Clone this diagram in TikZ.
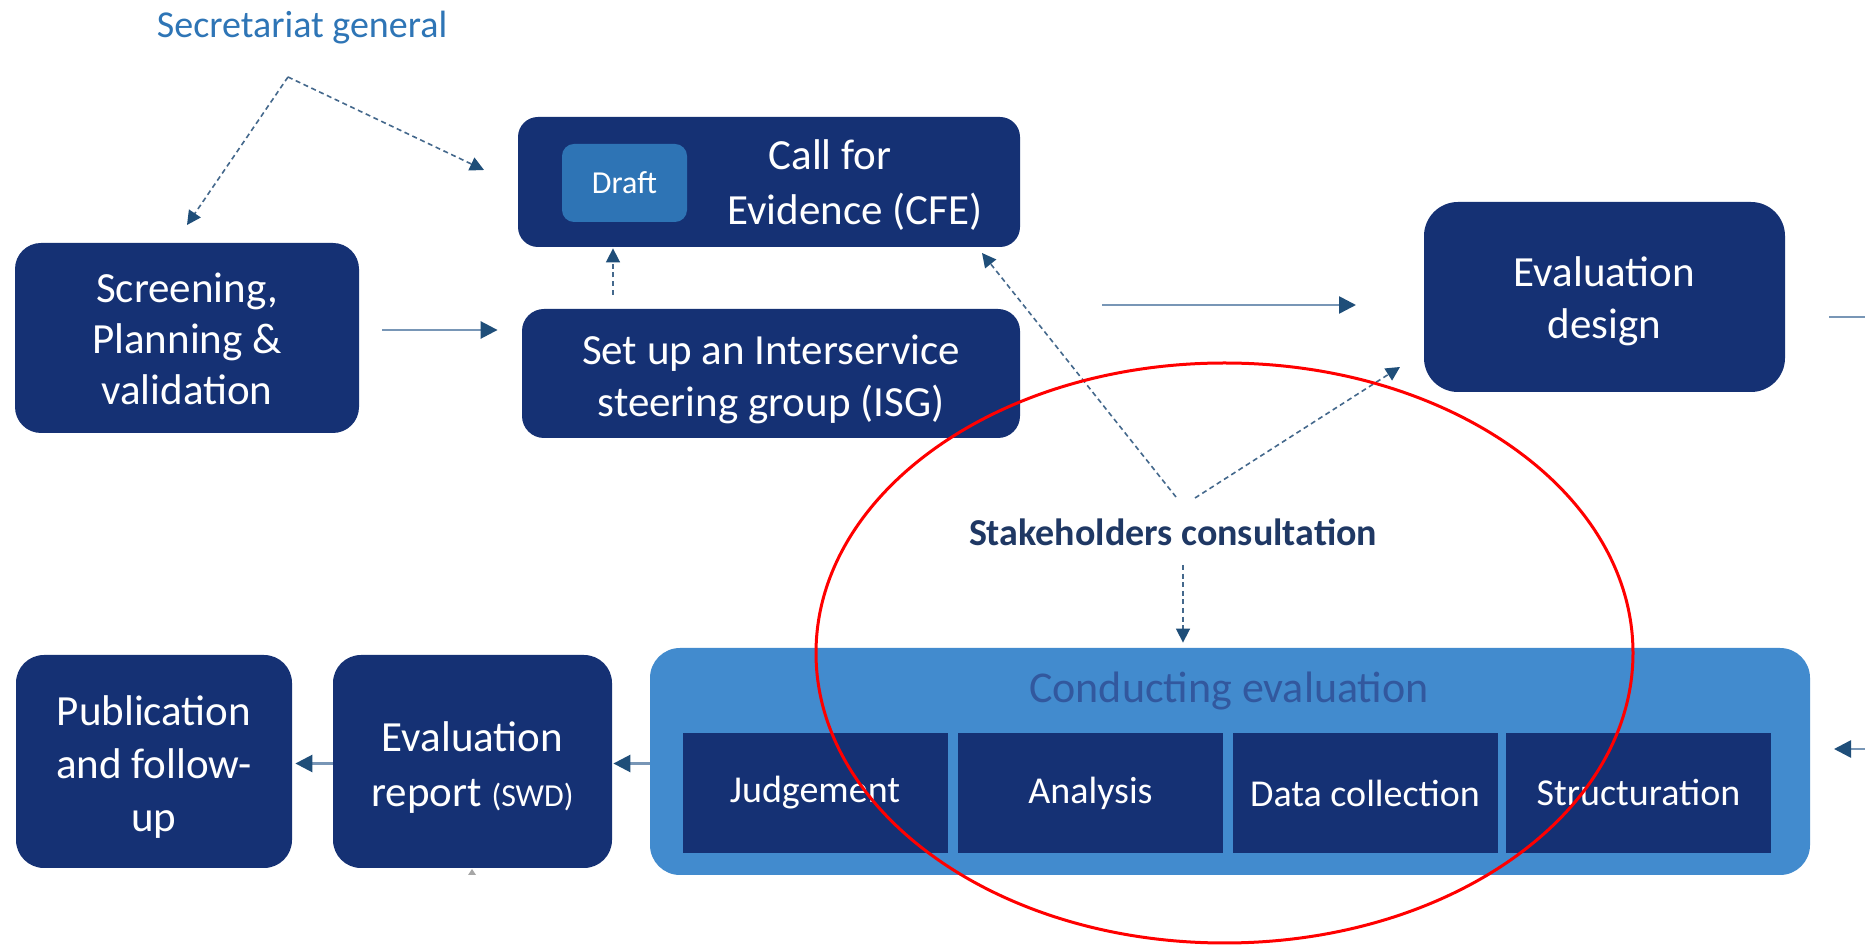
\documentclass[tikz,border=0pt]{standalone}
\usepackage{fontspec}
\setmainfont{Carlito}
\usetikzlibrary{arrows.meta}
\definecolor{navy}{RGB}{21,49,116}
\definecolor{draftblue}{RGB}{46,116,181}
\definecolor{condblue}{RGB}{66,139,206}
\definecolor{condtext}{RGB}{50,88,158}
\definecolor{sectext}{RGB}{46,117,182}
\definecolor{stktext}{RGB}{31,56,100}
\definecolor{tipcol}{RGB}{31,78,121}
\definecolor{linecol}{RGB}{120,150,182}
\definecolor{dashcol}{RGB}{68,104,140}
\tikzset{
  box/.style={fill=navy, rounded corners=13pt, inner sep=0pt},
  boxtext/.style={text=white, align=center, inner sep=0pt,
    font=\fontsize{21.5}{25.5}\selectfont},
  subbox/.style={fill=navy, text=white, align=center, inner sep=0pt,
    minimum width=132.5pt, minimum height=60pt, font=\fontsize{19}{23}\selectfont},
  arr/.style={draw=linecol, line width=1.3pt, -{Triangle[length=8.5pt,width=8.5pt,color=tipcol]}},
  plain/.style={draw=linecol, line width=1.3pt},
  dasharr/.style={draw=dashcol, line width=0.8pt, dash pattern=on 2.5pt off 1.8pt,
    -{Triangle[length=7pt,width=7pt,color=tipcol]}},
}
\begin{document}
\begin{tikzpicture}[x=0.5pt,y=-0.5pt]
\useasboundingbox (0,0) rectangle (1865,945);
\fill[white] (0,0) rectangle (1865,945);

% top row
\node[box, minimum width=172pt, minimum height=95pt] (scr) at (187,338) {};
\node[boxtext] (scrt) at (187,339) {Screening,\\Planning \&\\validation};
\node[box, rounded corners=10pt, minimum width=251pt, minimum height=65pt] (cfe) at (769,182) {};
\node[fill=draftblue, rounded corners=6pt, text=white, inner sep=0pt, minimum width=62.5pt, minimum height=39pt,
  font=\fontsize{16}{19}\selectfont] (draft) at (624.5,183) {Draft};
\node[boxtext, font=\fontsize{21.5}{27.5}\selectfont] (cfet) at (855,185)
  {Call for\hspace*{25pt}\\Evidence (CFE)};
\node[box, rounded corners=11pt, minimum width=249pt, minimum height=64.5pt] (isg) at (771,373.5) {};
\node[boxtext, font=\fontsize{21.5}{26}\selectfont] (isgt) at (771,379) {Set up an Interservice\\steering group (ISG)};
\node[box, rounded corners=17pt, minimum width=180.5pt, minimum height=95pt] (ed) at (1604.5,297) {};
\node[boxtext, font=\fontsize{21.5}{26}\selectfont] (edt) at (1604.5,301) {Evaluation\\design};

% labels
\node[text=sectext, font=\fontsize{19}{23}\selectfont, inner sep=0pt] (sec) at (302,28) {Secretariat general};
\node[text=stktext, font=\fontsize{19}{23}\bfseries\selectfont, inner sep=0pt] (stk) at (1173,532) {Stakeholders consultation};

% bottom row
\node[box, rounded corners=14pt, minimum width=138pt, minimum height=106.5pt] (pub) at (154,761.5) {};
\node[boxtext, font=\fontsize{21.5}{26.5}\selectfont] (pubt) at (154,767) {Publication\\and follow-\\up};
\node[box, rounded corners=14pt, minimum width=139.5pt, minimum height=106.5pt] (rep) at (472.5,761.5) {};
\node[boxtext, font=\fontsize{21.5}{27.5}\selectfont] (rept) at (472.5,768) {Evaluation\\report {\fontsize{16}{19}\selectfont(SWD)}};
\node[fill=condblue, rounded corners=15pt, minimum width=580pt, minimum height=113.5pt, inner sep=0pt] (cond) at (1230,761.5) {};
\node[text=condtext, font=\fontsize{22}{26}\selectfont, inner sep=0pt] (condt) at (1229,691) {Conducting evaluation};
\node[subbox] (jud) at (815,793) {Judgement};
\node[subbox] (ana) at (1090.5,793) {Analysis};
\node[subbox] (dat) at (1365,793) {Data collection};
\node[subbox] (str) at (1638.5,793) {Structuration};

% coordinates
\coordinate (apex) at (288,77);
\coordinate (sgl) at (187,225);
\coordinate (sgr) at (484,170);
\coordinate (vl) at (1176,497);
\coordinate (vr) at (1195,498);
\coordinate (cfetip) at (982,253);
\coordinate (edtip) at (1400,367);
\coordinate (dn) at (1183,565);
\coordinate (h1) at (1102,305);
\coordinate (h2) at (1356,305);
\coordinate (r1) at (1829,317);
\coordinate (r2) at (1865,317);
\coordinate (in1) at (1865,749);
\coordinate (in2) at (1834,749);

% connectors
\draw[arr, shorten <=11.5pt, shorten >=12pt] ([yshift=4pt]scr.east) -- ([yshift=4pt]scr.east -| isg.west);
\draw[dasharr, shorten <=7pt, shorten >=0.5pt] ([xshift=-79pt]isg.north) -- ([xshift=-78pt]cfe.south);
\draw[arr] (h1) -- (h2);
\draw[plain] (r1) -- (r2);
\draw[arr] (in1) -- (in2);
\draw[arr, shorten >=0.5pt] ([yshift=-1pt]cond.west) -- ([yshift=-1pt]cond.west -| rep.east);
\draw[arr, shorten >=1.5pt] ([yshift=-1pt]rep.west) -- ([yshift=-1pt]rep.west -| pub.east);
\draw[dasharr] (apex) -- (sgl);
\draw[dasharr] (apex) -- (sgr);
\draw[dasharr] (vl) -- (cfetip);
\draw[dasharr] (vr) -- (edtip);
\draw[dasharr, shorten >=2.5pt] (dn) -- (dn |- cond.north);
\fill[gray!70] (468,875) -- (476,875) -- (472,869) -- cycle;

% red ellipse
\draw[red, line width=1.5pt] (1224.5,653) ellipse [x radius=204.25pt, y radius=145pt];
\end{tikzpicture}
\end{document}
